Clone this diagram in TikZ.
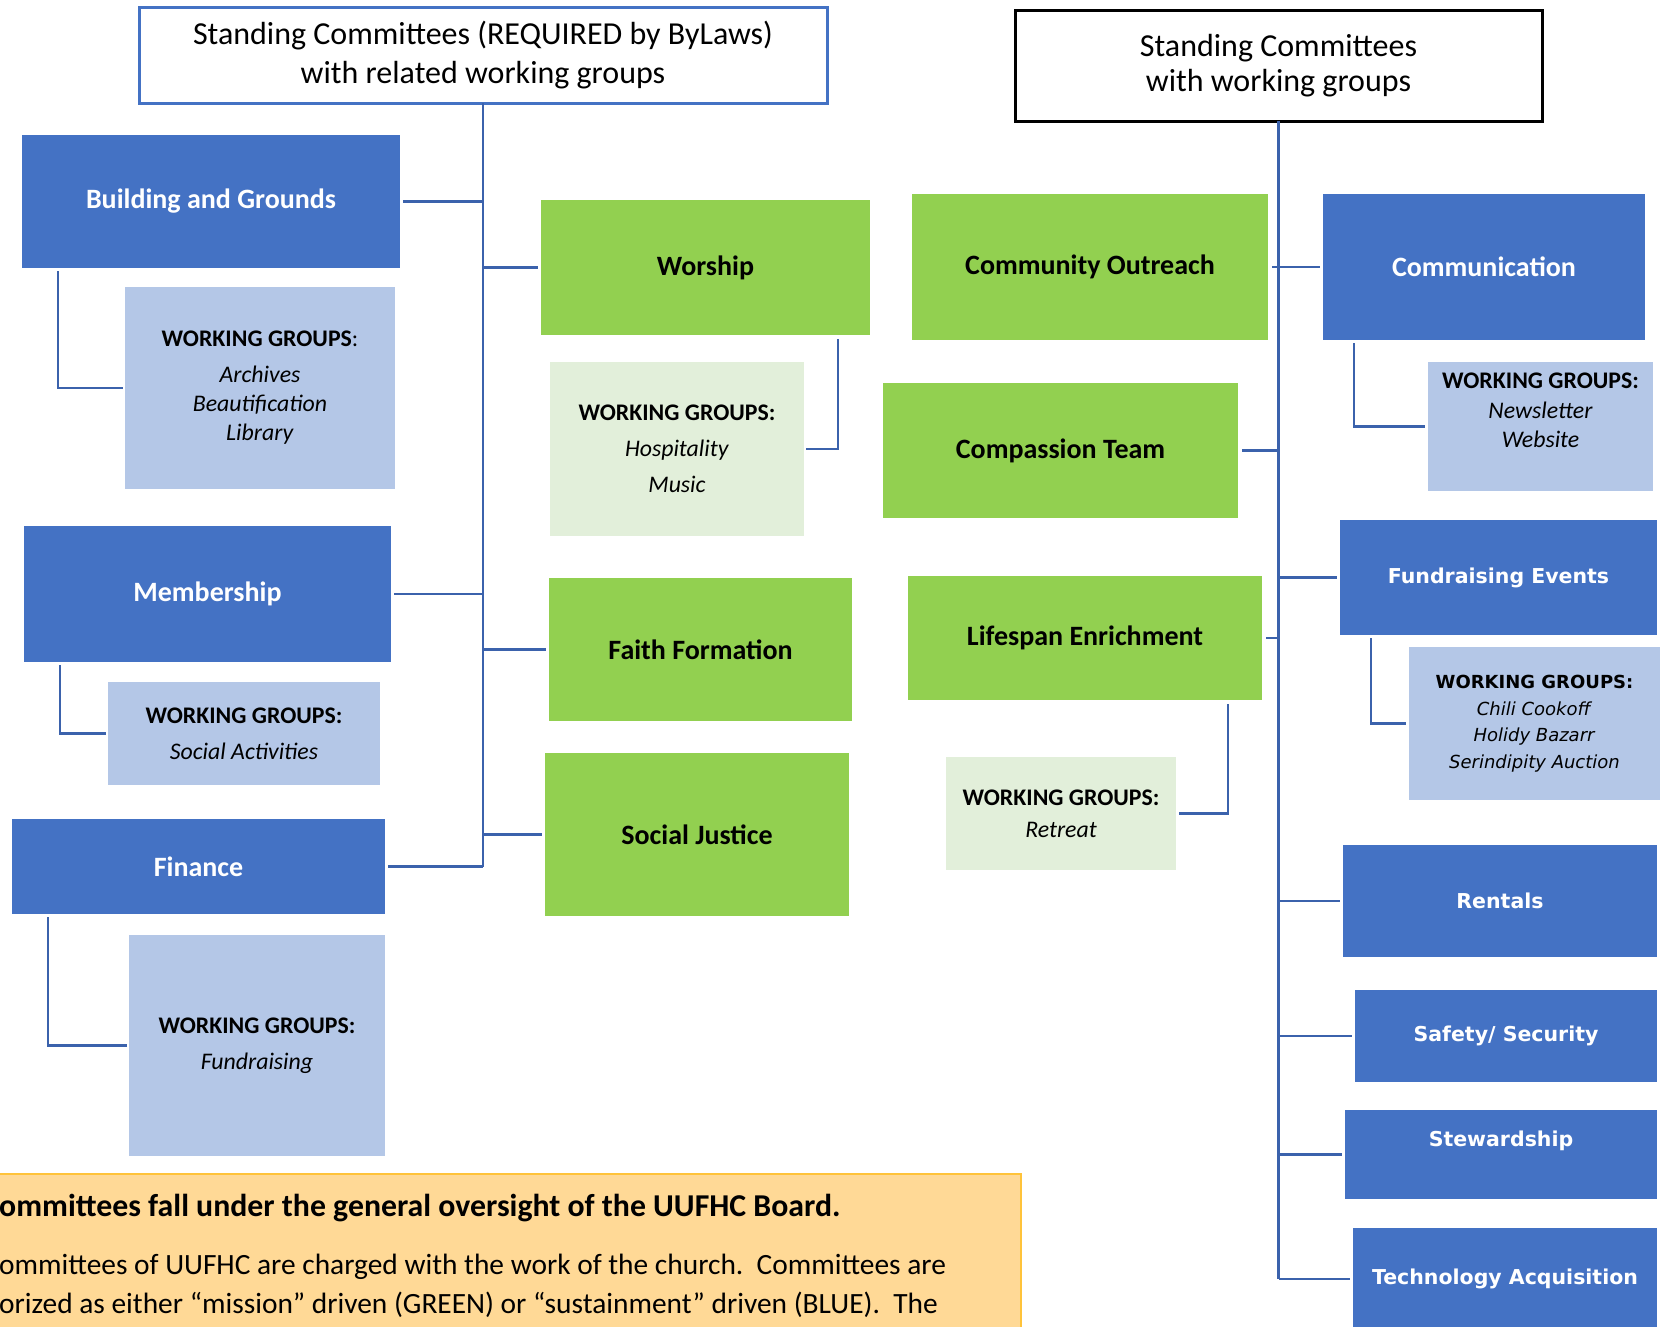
\documentclass[tikz,border=0pt]{standalone}
\usepackage{fontspec}
\setmainfont{Carlito}
\newfontfamily\wideface{DejaVu Sans}
\usetikzlibrary{positioning}

\definecolor{sustblue}{HTML}{4472C4}
\definecolor{missgreen}{HTML}{92D050}
\definecolor{wgblue}{HTML}{B4C7E7}
\definecolor{wggreen}{HTML}{E2EFDA}
\definecolor{linkblue}{HTML}{3B62AC}
\definecolor{notefill}{HTML}{FFD996}
\definecolor{noteedge}{HTML}{FFC33A}

\tikzset{
  cbox/.style={inner sep=0pt, outer sep=0pt, anchor=north west, align=center},
  mission/.style={cbox, fill=missgreen, text=black, font=\bfseries\fontsize{28}{34}\selectfont},
  sustain/.style={cbox, fill=sustblue, text=white, font=\bfseries\fontsize{28}{34}\selectfont},
  sustainwide/.style={cbox, fill=sustblue, text=white, font=\wideface\bfseries\fontsize{20.5}{26}\selectfont},
  wgb/.style={cbox, fill=wgblue, font=\fontsize{23.8}{36}\selectfont},
  wgg/.style={cbox, fill=wggreen, font=\fontsize{23.8}{36}\selectfont},
  headbox/.style={cbox, fill=white, line width=3pt, font=\fontsize{32}{39}\selectfont},
  link/.style={draw=linkblue, line width=2.6pt}
}

\begin{document}
\begin{tikzpicture}[x=1pt, y=-1pt]
  \clip (0,0) rectangle (1664,1326);
  \fill[white] (0,0) rectangle (1664,1326);

  % headers
  \node[headbox, draw=sustblue, minimum width=688, minimum height=96] (lhead) at (139,7)
    {Standing Committees (REQUIRED by ByLaws)\\with related working groups};
  \node[headbox, draw=black, minimum width=527, minimum height=111, font=\fontsize{32}{35}\selectfont] (rhead) at (1015,10)
    {Standing Committees\\with working groups};

  % left column (required)
  \node[sustain, minimum width=378, minimum height=133] (bg) at (22,135) {Building and Grounds};
  \node[wgb, minimum width=270, minimum height=202, font=\fontsize{23.8}{29}\selectfont] (bgwg) at (125,287)
    {\textbf{WORKING GROUPS}:\\[7pt]\textit{Archives}\\\textit{Beautification}\\\textit{Library}};
  \node[sustain, minimum width=367, minimum height=136] (mem) at (24,526) {Membership};
  \node[wgb, minimum width=272, minimum height=103] (memwg) at (108,682)
    {\textbf{WORKING GROUPS:}\\\textit{Social Activities}};
  \node[sustain, minimum width=373, minimum height=95] (fin) at (12,819) {Finance};
  \node[wgb, minimum width=256, minimum height=221] (finwg) at (129,935)
    {\textbf{WORKING GROUPS:}\\\textit{Fundraising}};

  \node[mission, minimum width=329, minimum height=135] (wor) at (541,200) {Worship};
  \node[wgg, minimum width=254, minimum height=174] (worwg) at (550,362)
    {\textbf{WORKING GROUPS:}\\\textit{Hospitality}\\\textit{Music}};
  \node[mission, minimum width=303, minimum height=143] (faith) at (549,578) {Faith Formation};
  \node[mission, minimum width=304, minimum height=163] (sj) at (545,753) {Social Justice};

  % right column
  \node[mission, minimum width=356, minimum height=146] (co) at (912,194) {Community Outreach};
  \node[mission, minimum width=355, minimum height=135] (cp) at (883,383) {Compassion Team};
  \node[mission, minimum width=354, minimum height=124] (life) at (908,576) {Lifespan Enrichment};
  \node[wgg, minimum width=230, minimum height=113, font=\fontsize{23.8}{32}\selectfont] (lifewg) at (946,757)
    {\textbf{WORKING GROUPS:}\\\textit{Retreat}};

  \node[sustain, minimum width=322, minimum height=146] (comm) at (1323,194) {Communication};
  \node[wgb, minimum width=225, minimum height=129, font=\fontsize{23.8}{29.5}\selectfont] (commwg) at (1428,362)
    {\raisebox{8pt}[0pt][0pt]{\begin{tabular}{@{}c@{}}\textbf{WORKING GROUPS:}\\\textit{Newsletter}\\\textit{Website}\end{tabular}}};
  \node[sustainwide, minimum width=317, minimum height=115] (fund) at (1340,520) {Fundraising Events};
  \node[wgb, minimum width=251, minimum height=153, font=\wideface\fontsize{18}{26.5}\selectfont] (fundwg) at (1409,647)
    {\textbf{WORKING GROUPS:}\\\textit{Chili Cookoff}\\\textit{Holidy Bazarr}\\\textit{Serindipity Auction}};
  \node[sustainwide, minimum width=314, minimum height=112] (rent) at (1343,845) {Rentals};
  \node[sustainwide, minimum width=302, minimum height=92] (safe) at (1355,990) {Safety/ Security};
  \node[sustainwide, minimum width=312, minimum height=89] (stew) at (1345,1110)
    {\raisebox{8pt}[0pt][0pt]{Stewardship}};
  \node[sustainwide, minimum width=304, minimum height=102] (tech) at (1353,1228) {Technology Acquisition};

  % trunks and branches
  \draw[link] (lhead.south) -- (lhead.south |- fin.east);
  \foreach \c in {bg, mem, fin}
    \draw[link] ([xshift=3]\c.east) -- (\c.east -| lhead.south);
  \foreach \c in {wor, faith, sj}
    \draw[link] (\c.west -| lhead.south) -- ([xshift=-3]\c.west);

  \draw[link] (rhead.south) -- (rhead.south |- tech.west);
  \draw[link] ([xshift=4]co.east) -- ([xshift=-3]comm.west);
  \foreach \c in {cp, life}
    \draw[link] ([xshift=4]\c.east) -- (\c.east -| rhead.south);
  \foreach \c in {fund, rent, safe, stew, tech}
    \draw[link] (\c.west -| rhead.south) -- ([xshift=-3]\c.west);

  % working group connectors
  \draw[link] ([xshift=36,yshift=-3]bg.south west) |- ([xshift=-2]bgwg.west);
  \draw[link] ([xshift=36,yshift=-3]mem.south west) |- ([xshift=-2]memwg.west);
  \draw[link] ([xshift=36,yshift=-3]fin.south west) |- ([xshift=-2]finwg.west);
  \draw[link] ([xshift=-32,yshift=-4]wor.south east) |- ([xshift=2]worwg.east);
  \draw[link] ([xshift=-34,yshift=-4]life.south east) |- ([xshift=3]lifewg.east);
  \draw[link] ([xshift=31,yshift=-3]comm.south west) |- ([xshift=-3]commwg.west);
  \draw[link] ([xshift=31,yshift=-3]fund.south west) |- ([xshift=-3]fundwg.west);

  % note at the bottom
  \draw[fill=notefill, draw=noteedge, line width=1.5pt] (-10,1174) rectangle (1021,1345);
  \node[anchor=base west, inner sep=0pt, font=\bfseries\fontsize{31.8}{36}\selectfont] (notehead) at (-1,1216)
    {ommittees fall under the general oversight of the UUFHC Board.};
  \node[anchor=base west, inner sep=0pt, font=\fontsize{29.4}{36}\selectfont] (noteone) at (-1,1274)
    {ommittees of UUFHC are charged with the work of the church.\ \ Committees are};
  \node[anchor=base west, inner sep=0pt, font=\fontsize{29.4}{36}\selectfont] (notetwo) at (-1,1313)
    {orized as either “mission” driven (GREEN) or “sustainment” driven (BLUE).\ \ The};
\end{tikzpicture}
\end{document}
